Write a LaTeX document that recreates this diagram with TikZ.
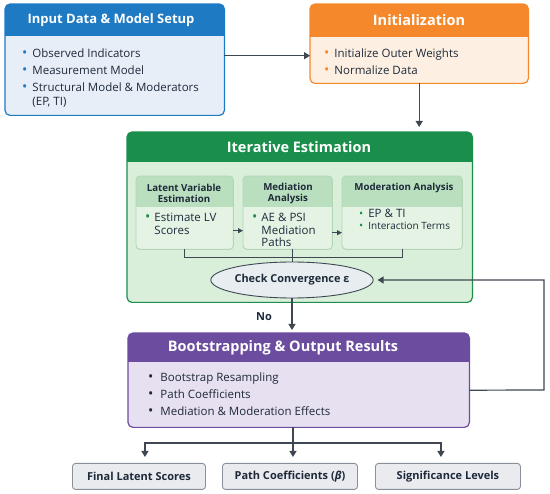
\documentclass[tikz,border=0pt]{standalone}
\usepackage{fontspec}
\setmainfont{Open Sans}
\usetikzlibrary{arrows.meta,shapes.geometric}
\definecolor{ink}{HTML}{1E2A3A}
\definecolor{wire}{HTML}{3F4752}
\definecolor{bluehd}{HTML}{1F7AC4}
\definecolor{bluebg}{HTML}{E7EEF8}
\definecolor{orghd}{HTML}{F5882A}
\definecolor{orgbg}{HTML}{FDF0E2}
\definecolor{grnhd}{HTML}{1A8F4C}
\definecolor{grnbg}{HTML}{D9EFD9}
\definecolor{grnsub}{HTML}{BADFBE}
\definecolor{grnsubbg}{HTML}{E5F3E5}
\definecolor{grnsubbd}{HTML}{B3D6B6}
\definecolor{purhd}{HTML}{6B4C9E}
\definecolor{purbg}{HTML}{E7E0F0}
\definecolor{outbg}{HTML}{E9EBEF}
\definecolor{outbd}{HTML}{8A9099}
\definecolor{convbg}{HTML}{E8EEF0}
\newcommand{\bl}[2][14]{\textcolor{#2}{\fontsize{#1}{0}\selectfont\textbullet}}
\begin{document}
\begin{tikzpicture}[x=1pt,y=-1pt,
  panel/.style={fill=#1, rounded corners=5pt, inner sep=0pt, anchor=north west},
  title/.style={font=\fontsize{14.5}{17}\selectfont\bfseries, text=white},
  subtitle/.style={font=\fontsize{9.7}{11}\selectfont\bfseries, text=ink, align=center},
  items/.style={font=\fontsize{11.5}{14}\selectfont, text=ink, anchor=north west, inner sep=0pt},
  subitems/.style={font=\fontsize{11.5}{12.5}\selectfont, text=ink, anchor=north west, inner sep=0pt},
  outbox/.style={draw=outbd, fill=outbg, rounded corners=3pt, line width=0.9pt, inner sep=0pt,
    anchor=north west, minimum height=26, font=\fontsize{11}{13}\selectfont\bfseries, text=ink},
  arr/.style={draw=wire, line width=1.2pt, -{Triangle[length=6pt,width=7pt]}},
  line/.style={draw=wire, line width=1.1pt}]
\useasboundingbox (0,0) rectangle (550,494);

% ---- Main panels ----
\node[panel=bluebg, minimum width=219, minimum height=111] (input) at (5,4) {};
\node[panel=orgbg, minimum width=218, minimum height=79] (init) at (310,4) {};
\node[panel=grnbg, minimum width=345, minimum height=170] (iter) at (127,132) {};
\node[panel=purbg, minimum width=341, minimum height=94] (boot) at (128,333) {};
\foreach \n/\c/\h in {input/blue/32, init/org/33, iter/grn/30, boot/pur/29} {
  \begin{scope}
    \clip[rounded corners=5pt] (\n.north west) rectangle (\n.south east);
    \fill[\c hd] (\n.north west) rectangle ([yshift=-\h pt]\n.north east);
  \end{scope}
  \draw[\c hd, line width=1.2pt, rounded corners=5pt] (\n.north west) rectangle (\n.south east);
}
\node[title, font=\fontsize{13}{15}\selectfont\bfseries] at (111,20) {Input Data \& Model Setup};
\node[title] at (419,20) {Initialization};
\node[title] at (299,147) {Iterative Estimation};
\node[title] at (283,348) {Bootstrapping \& Output Results};

\node[items] at (22,48) {\begin{tabular}{@{}l@{\hspace{5pt}}l@{}}
  \bl{bluehd} & Observed Indicators\\[3pt]
  \bl{bluehd} & Measurement Model\\[3pt]
  \bl{bluehd} & Structural Model \& Moderators\\
  & (EP, TI)
\end{tabular}};
\node[items] at (324,48) {\begin{tabular}{@{}l@{\hspace{5pt}}l@{}}
  \bl{orghd} & Initialize Outer Weights\\[3pt]
  \bl{orghd} & Normalize Data
\end{tabular}};
\node[items] at (148,372) {\begin{tabular}{@{}l@{\hspace{7pt}}l@{}}
  \bl{ink} & Bootstrap Resampling\\[3pt]
  \bl{ink} & Path Coefficients\\[3pt]
  \bl{ink} & Mediation \& Moderation Effects
\end{tabular}};

% ---- Steps inside the iteration ----
\node[panel=grnsubbg, minimum width=97, minimum height=73] (lve) at (136,176) {};
\node[panel=grnsubbg, minimum width=89, minimum height=73] (med) at (243,176) {};
\node[panel=grnsubbg, minimum width=120, minimum height=73] (mod) at (342,176) {};
\foreach \n in {lve, med, mod} {
  \begin{scope}
    \clip[rounded corners=4pt] (\n.north west) rectangle (\n.south east);
    \fill[grnsub] (\n.north west) rectangle ([yshift=-31pt]\n.north east);
  \end{scope}
  \draw[grnsubbd, line width=0.9pt, rounded corners=4pt] (\n.north west) rectangle (\n.south east);
}
\node[subtitle] at (184,193) {Latent Variable\\Estimation};
\node[subtitle] at (288,193) {Mediation\\Analysis};
\node[subtitle] at (404,188) {Moderation Analysis};
\node[subitems] at (145,213) {\begin{tabular}{@{}l@{\hspace{4pt}}l@{}}
  \bl{grnhd} & Estimate LV\\ & Scores
\end{tabular}};
\node[subitems] at (252,213) {\begin{tabular}{@{}l@{\hspace{4pt}}l@{}}
  \bl{grnhd} & AE \& PSI\\ & Mediation\\ & Paths
\end{tabular}};
\node[subitems, font=\fontsize{10}{11}\selectfont] at (359,209) {\begin{tabular}{@{}l@{\hspace{5pt}}l@{}}
  \bl[11]{grnhd} & {\fontsize{11.5}{12}\selectfont EP \& TI}\\[1pt]
  \bl[11]{grnhd} & Interaction Terms
\end{tabular}};
\draw[arr, -{Triangle[length=5pt,width=5pt]}, line width=0.9pt] ([yshift=-18pt]lve.east) -- ([yshift=-18pt]med.west);
\draw[arr, -{Triangle[length=5pt,width=5pt]}, line width=0.9pt] ([yshift=-20pt]med.east) -- ([yshift=-20pt]mod.west);

\node[ellipse, draw=wire, fill=convbg, line width=0.9pt, minimum width=150, minimum height=36,
  inner sep=0pt, font=\fontsize{10.9}{13}\selectfont\bfseries, text=ink] (conv) at (292,280) {Check Convergence ε};
\draw[line, line width=0.9pt] (lve.south) -- ++(0,8) -| (mod.south);
\draw[line, line width=0.9pt] (conv.north) -- (conv.north |- med.south);

% ---- Outputs ----
\node[outbox, minimum width=133] (fin) at (72,463) {Final Latent Scores};
\node[outbox, minimum width=135] (pth) at (222,463) {Path Coefficients (\textit{β})};
\node[outbox, minimum width=145] (sig) at (375,463) {Significance Levels};

% ---- Connectors ----
\draw[arr] ([yshift=4pt]input.east) -- ([yshift=4pt]input.east -| init.west);
\draw[arr, shorten >=5pt] (init.south) -- (init.south |- iter.north);
\draw[arr, shorten >=3pt] (conv.south) -- (conv.south |- boot.north);
\node[font=\fontsize{11}{13}\selectfont\bfseries, text=ink] (no) at (264,317) {No};
\coordinate (loop) at (544,390);
\draw[arr, shorten >=4pt] ([yshift=-10pt]boot.east) -- (loop) |- (conv.east);
\coordinate (split) at (293,443);
\draw[line] (boot.south -| split) -- (split);
\draw[arr, shorten >=6pt] (split) -| ([xshift=6pt]fin.north);
\draw[arr, shorten >=6pt] (split) -- (split |- pth.north);
\draw[arr, shorten >=6pt] (split) -| ([xshift=-7pt]sig.north);
\end{tikzpicture}
\end{document}
